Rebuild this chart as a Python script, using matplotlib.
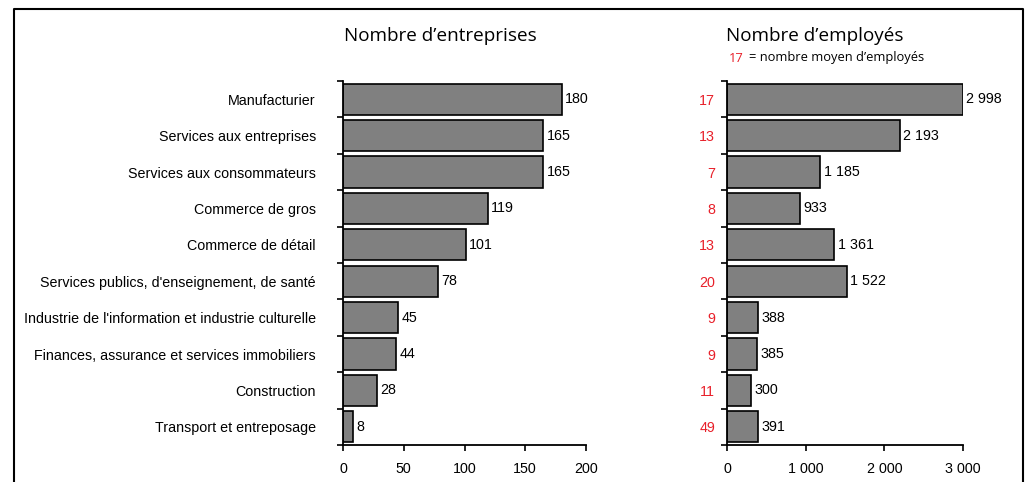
import matplotlib

matplotlib.use("Agg")
import matplotlib.pyplot as plt
import numpy as np
from matplotlib.lines import Line2D
from matplotlib.ticker import FuncFormatter

categories = [
    "Manufacturier",
    "Services aux entreprises",
    "Services aux consommateurs",
    "Commerce de gros",
    "Commerce de détail",
    "Services publics, d'enseignement, de santé",
    "Industrie de l'information et industrie culturelle",
    "Finances, assurance et services immobiliers",
    "Construction",
    "Transport et entreposage",
]
entreprises = [180, 165, 165, 119, 101, 78, 45, 44, 28, 8]
employes = [2998, 2193, 1185, 933, 1361, 1522, 388, 385, 300, 391]
moyenne = [17, 13, 7, 8, 13, 20, 9, 9, 11, 49]

LABEL_FONT = ["Liberation Sans", "DejaVu Sans"]
TITLE_FONT = ["Open Sans", "DejaVu Sans"]
RED = "#e8202a"
FS = 10.3


def thousands(v):
    return f"{int(v):,}".replace(",", " ")


def style_axis(ax, xmax, xticks):
    y = np.arange(len(categories))
    ax.set_ylim(len(categories) - 0.5, -0.5)
    ax.set_xlim(0, xmax)
    for side in ("top", "right"):
        ax.spines[side].set_visible(False)
    for side in ("left", "bottom"):
        ax.spines[side].set_linewidth(1.3)
    ax.set_xticks(xticks)
    ax.xaxis.set_major_formatter(FuncFormatter(lambda v, _: thousands(v)))
    ax.tick_params(axis="x", direction="out", length=4, width=1.2, pad=8, labelsize=FS)
    ax.set_yticks(np.arange(len(categories) + 1) - 0.5, minor=True)
    ax.tick_params(axis="y", which="minor", direction="out", length=4, width=1.2)
    ax.set_yticks(y)
    ax.tick_params(axis="y", which="major", length=0)
    for lbl in ax.get_xticklabels():
        lbl.set_family(LABEL_FONT)


fig = plt.figure(figsize=(10.3, 4.82), dpi=100)

y = np.arange(len(categories))
ax1 = fig.add_axes([343 / 1030, 1 - 445 / 482, 243 / 1030, 364 / 482])
ax1.barh(y, entreprises, height=0.86, color="#808080", edgecolor="black", linewidth=1.2)
style_axis(ax1, 200, [0, 50, 100, 150, 200])
ax1.set_yticklabels(categories, family=LABEL_FONT, fontsize=FS)
ax1.tick_params(axis="y", which="major", pad=19.5)
for yi, v in zip(y, entreprises):
    ax1.annotate(str(v), (v, yi), xytext=(2.5, 0), textcoords="offset points",
                 va="center", ha="left", fontsize=FS, family=LABEL_FONT)

ax2 = fig.add_axes([727 / 1030, 1 - 445 / 482, 236 / 1030, 364 / 482])
ax2.barh(y, employes, height=0.86, color="#808080", edgecolor="black", linewidth=1.2)
style_axis(ax2, 3000, [0, 1000, 2000, 3000])
ax2.set_yticklabels([str(m) for m in moyenne], family=LABEL_FONT, fontsize=FS, color=RED)
ax2.tick_params(axis="y", which="major", pad=8.5)
for yi, v in zip(y, employes):
    ax2.annotate(thousands(v), (v, yi), xytext=(2.5, 0), textcoords="offset points",
                 va="center", ha="left", fontsize=FS, family=LABEL_FONT)

fig.text(344 / 1030, 1 - 36 / 482, "Nombre d’entreprises", fontsize=13.6,
         family=TITLE_FONT, va="center", ha="left")
fig.text(726 / 1030, 1 - 36 / 482, "Nombre d’employés", fontsize=13.6,
         family=TITLE_FONT, va="center", ha="left")
fig.text(729 / 1030, 1 - 58 / 482, "17", fontsize=9.3, family=TITLE_FONT,
         color=RED, va="center", ha="left")
fig.text(749 / 1030, 1 - 58 / 482, "= nombre moyen d’employés", fontsize=9.3,
         family=TITLE_FONT, va="center", ha="left")

# cadre autour du graphique
xl, xr, yt = 14 / 1030, 1023 / 1030, 1 - 9 / 482
fig.add_artist(Line2D([xl, xl, xr, xr], [0, yt, yt, 0], color="black", lw=1.5,
                      transform=fig.transFigure))

fig.savefig("out.png", dpi=100)
